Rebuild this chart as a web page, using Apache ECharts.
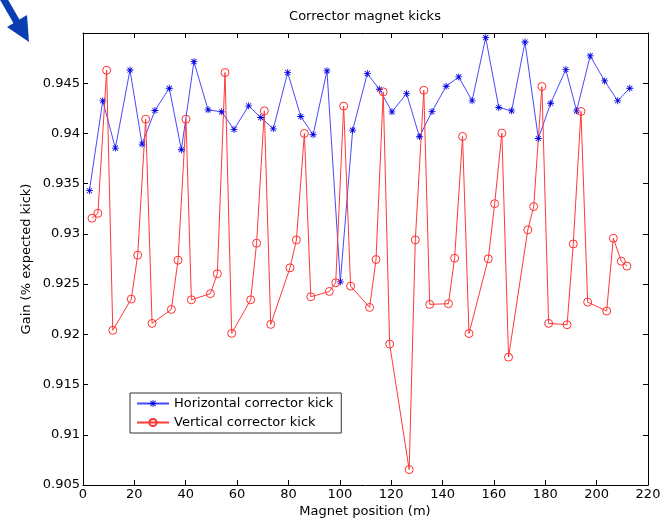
<!DOCTYPE html>
<html>
<head>
<meta charset="utf-8">
<script src="https://cdn.jsdelivr.net/npm/echarts@6/dist/echarts.min.js"></script>
<style>
html,body{margin:0;padding:0;background:#fff;}
#chart{width:664px;height:522px;}
</style>
</head>
<body>
<div id="chart"></div>
<script>
var horizX = [2.5, 7.7, 12.6, 18.3, 23.0, 28.0, 33.6, 38.3, 43.2, 48.7, 54.0, 58.8, 64.5, 69.2, 74.1, 79.7, 84.8, 89.6, 95.0, 100.2, 105.0, 110.7, 115.4, 120.3, 126.0, 131.0, 135.9, 141.4, 146.3, 151.5, 156.8, 161.9, 166.9, 172.1, 177.3, 182.1, 188.0, 192.2, 197.5, 203.1, 208.2, 212.9];
var horizY = [0.9343, 0.94325, 0.93854, 0.94632, 0.93894, 0.94228, 0.9445, 0.93838, 0.94715, 0.94235, 0.94215, 0.9404, 0.94275, 0.94159, 0.94046, 0.94606, 0.94169, 0.93987, 0.94623, 0.92523, 0.94033, 0.94596, 0.9444, 0.94215, 0.94397, 0.93967, 0.94219, 0.9447, 0.94563, 0.94325, 0.94954, 0.94258, 0.94225, 0.9491, 0.9395, 0.94301, 0.94636, 0.94225, 0.94772, 0.94523, 0.94325, 0.9445];
var vertX = [3.5, 5.8, 9.2, 11.6, 18.8, 21.3, 24.4, 26.9, 34.4, 37.0, 40.1, 42.2, 49.6, 52.3, 55.3, 57.9, 65.3, 67.6, 70.6, 73.1, 80.6, 83.1, 86.2, 88.7, 95.9, 98.4, 101.5, 104.2, 111.6, 114.1, 116.9, 119.4, 127.0, 129.4, 132.7, 135.0, 142.3, 144.7, 147.8, 150.3, 157.8, 160.3, 163.1, 165.7, 173.2, 175.5, 178.7, 181.3, 188.5, 190.9, 193.9, 196.5, 203.9, 206.5, 209.6, 211.8];
var vertY = [0.93156, 0.93205, 0.94629, 0.9204, 0.92351, 0.92788, 0.94142, 0.92109, 0.92248, 0.92738, 0.94142, 0.92344, 0.92405, 0.92603, 0.94606, 0.9201, 0.92344, 0.92907, 0.94225, 0.92099, 0.92662, 0.9294, 0.94, 0.92374, 0.92427, 0.92513, 0.94272, 0.9248, 0.92268, 0.92745, 0.94414, 0.91903, 0.90654, 0.9294, 0.9443, 0.92298, 0.92305, 0.92758, 0.9397, 0.92008, 0.92752, 0.93301, 0.94003, 0.91773, 0.9304, 0.93272, 0.94467, 0.92109, 0.92096, 0.929, 0.94219, 0.92321, 0.92232, 0.92957, 0.92728, 0.92679];
var seriesNames = ['Horizontal corrector kick', 'Vertical corrector kick'];
var titleText = 'Corrector magnet kicks';
var xName = 'Magnet position (m)';
var yName = 'Gain (% expected kick)';

function pairs(xs, ys) { return xs.map(function (x, i) { return [x, ys[i]]; }); }

var FONT = 'DejaVu Sans';
var star = 'path://M4.4 0 L5.6 0 L5.6 10 L4.4 10 Z M0 4.4 L10 4.4 L10 5.6 L0 5.6 Z M1 1.8 L1.8 1 L9 8.2 L8.2 9 Z M8.2 1 L9 1.8 L1.8 9 L1 8.2 Z';

var chart = echarts.init(document.getElementById('chart'), null, {renderer: 'canvas'});
var axisCommon = {
  axisLine: {show: true, onZero: false, lineStyle: {color: '#000', width: 1}},
  axisTick: {show: true, inside: true, length: 5, lineStyle: {color: '#000'}},
  splitLine: {show: false}
};
chart.setOption({
  animation: false,
  backgroundColor: '#fff',
  grid: {left: 83, right: 16, top: 33, bottom: 37, containLabel: false, outerBoundsMode: 'none'},
  xAxis: [
    Object.assign({type: 'value', min: 0, max: 220, interval: 20, position: 'bottom',
      axisLabel: {color: '#000', fontFamily: FONT, fontSize: 13, margin: 3}}, axisCommon),
    Object.assign({type: 'value', min: 0, max: 220, interval: 20, position: 'top',
      axisLabel: {show: false}}, axisCommon)
  ],
  yAxis: [
    Object.assign({type: 'value', min: 0.905, max: 0.95, interval: 0.005, position: 'left',
      axisLabel: {color: '#000', fontFamily: FONT, fontSize: 13, margin: 3, showMaxLabel: false,
        formatter: function (v) { return String(+v.toFixed(3)); }}}, axisCommon),
    Object.assign({type: 'value', min: 0.905, max: 0.95, interval: 0.005, position: 'right',
      axisLabel: {show: false}}, axisCommon)
  ],
  legend: {
    orient: 'vertical', left: 130, top: 393,
    itemWidth: 32, itemHeight: 9, itemGap: 6,
    padding: [4, 8, 4, 6],
    borderColor: '#333', borderWidth: 1, backgroundColor: '#fff',
    textStyle: {color: '#000', fontFamily: FONT, fontSize: 13},
    data: seriesNames
  },
  graphic: [
    {type: 'text', style: {text: titleText, x: 365, y: 17, align: 'center', verticalAlign: 'middle', fill: '#000', font: '13px "DejaVu Sans"'}},
    {type: 'text', style: {text: xName, x: 365, y: 512, align: 'center', verticalAlign: 'middle', fill: '#000', font: '13px "DejaVu Sans"'}},
    {type: 'text', x: 27, y: 259, rotation: Math.PI / 2, style: {text: yName, x: 0, y: 0, align: 'center', verticalAlign: 'middle', fill: '#000', font: '13px "DejaVu Sans"'}},
    {type: 'line', shape: {x1: 3, y1: -2, x2: 18, y2: 24}, style: {stroke: '#0a3db2', lineWidth: 7}},
    {type: 'polygon', shape: {points: [[7, 27], [27, 15], [29, 42]]}, style: {fill: '#0a3db2'}}
  ],
  series: [
    {
      name: seriesNames[0], type: 'line', xAxisIndex: 0, yAxisIndex: 0,
      data: pairs(horizX, horizY),
      symbol: star, symbolSize: 7,
      lineStyle: {color: '#4848ff', width: 1},
      itemStyle: {color: '#0000e0'},
      emphasis: {disabled: true}
    },
    {
      name: seriesNames[1], type: 'line', xAxisIndex: 0, yAxisIndex: 0,
      data: pairs(vertX, vertY),
      symbol: 'circle', symbolSize: 8,
      lineStyle: {color: '#ff3a3a', width: 1},
      itemStyle: {color: 'rgba(255,255,255,0)', borderColor: '#ff3030', borderWidth: 1},
      emphasis: {disabled: true}
    }
  ]
});
</script>
</body>
</html>
